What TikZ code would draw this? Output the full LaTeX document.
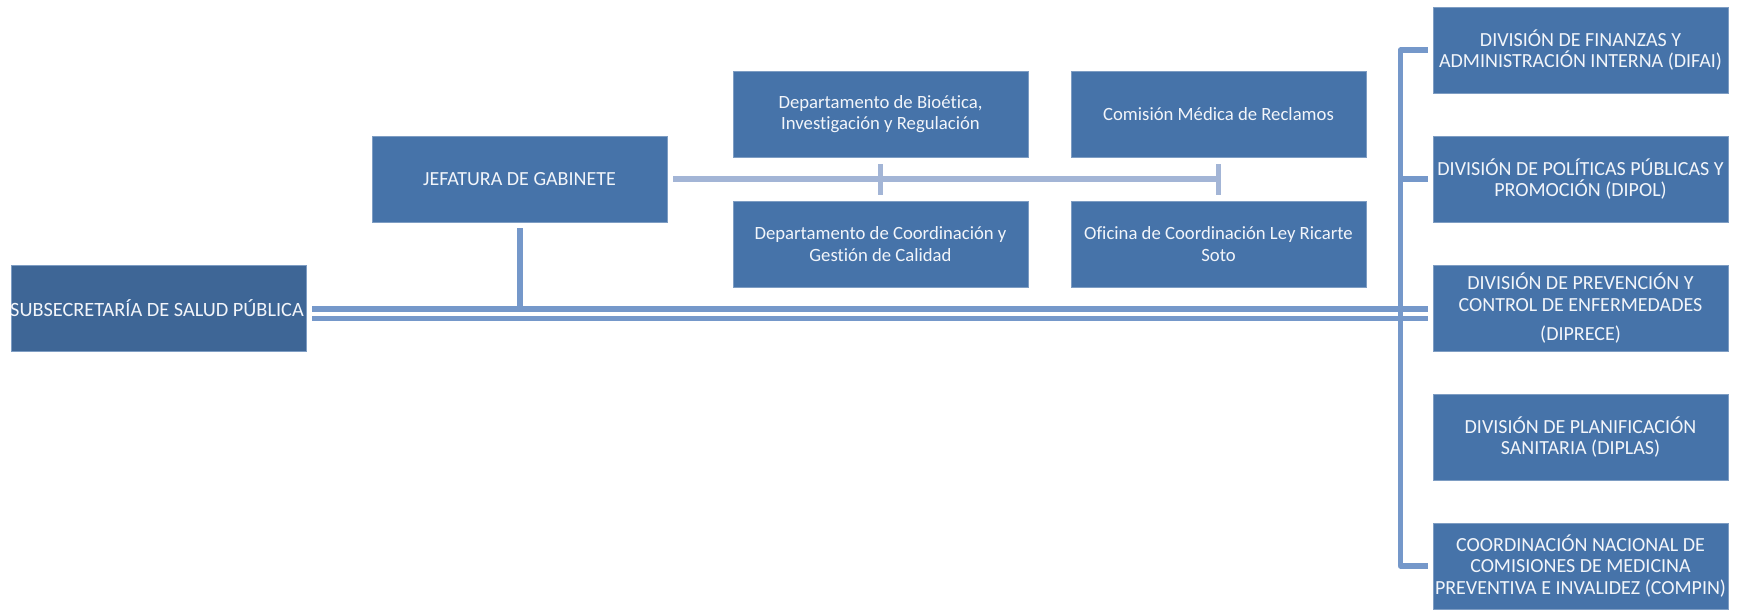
\documentclass[tikz,border=0pt]{standalone}
\usepackage{fontspec}
\setmainfont{Carlito}[Ligatures=NoCommon]
\definecolor{boxblue}{HTML}{4673A9}
\definecolor{boxdark}{HTML}{3E6696}
\definecolor{linkblue}{HTML}{7598CA}
\definecolor{linklight}{HTML}{A3B5D6}
\definecolor{txt}{HTML}{F2F5FA}
\begin{document}
\begin{tikzpicture}[x=1pt,y=-1pt,
  orgbox/.style={rectangle, fill=boxblue, draw=boxblue!70!white, line width=0.4pt,
    minimum width=295pt, minimum height=86pt, inner sep=0pt, align=center,
    text=txt, font=\fontsize{20}{21.7}\selectfont},
  mixed/.style={font=\fontsize{18.7}{21.7}\selectfont},
  link/.style={draw=linkblue, line width=5.5pt},
  lightlink/.style={draw=linklight, line width=6.5pt},
  tick/.style={draw=linklight, line width=5pt}]
\useasboundingbox (0,0) rectangle (1740,610);
% left and middle boxes
\node[orgbox, fill=boxdark, font=\fontsize{20.3}{21.7}\selectfont] (sub) at (158.5,308) {\makebox[0pt]{\hspace{-3pt}SUBSECRETARÍA DE SALUD PÚBLICA}};
\node[orgbox] (jef) at (519.5,179) {JEFATURA DE GABINETE};
\node[orgbox, mixed] (bio) at (880.5,114) {Departamento de Bioética,\\Investigación y Regulación};
\node[orgbox, mixed] (dcg) at (880.5,244) {Departamento de Coordinación y\\Gestión de Calidad};
\node[orgbox, mixed] (cmr) at (1218.5,114) {Comisión Médica de Reclamos};
\node[orgbox, mixed] (ofi) at (1218.5,244) {Oficina de Coordinación Ley Ricarte\\Soto};
% right boxes
\node[orgbox] (difai) at (1580.5,50) {DIVISIÓN DE FINANZAS Y\\ADMINISTRACIÓN INTERNA (DIFAI)};
\node[orgbox] (dipol) at (1580.5,179) {DIVISIÓN DE POLÍTICAS PÚBLICAS Y\\PROMOCIÓN (DIPOL)};
\node[orgbox] (diprece) at (1580.5,308) {DIVISIÓN DE PREVENCIÓN Y\\CONTROL DE ENFERMEDADES\\[7pt](DIPRECE)};
\node[orgbox] (diplas) at (1580.5,437) {DIVISIÓN DE PLANIFICACIÓN\\SANITARIA (DIPLAS)};
\node[orgbox] (compin) at (1580.5,566) {COORDINACIÓN NACIONAL DE\\COMISIONES DE MEDICINA\\PREVENTIVA E INVALIDEZ (COMPIN)};
% coordinates for connectors
\coordinate (busx) at (1400.5,0);
\coordinate (jefline) at ([xshift=6pt]jef.east);
\coordinate (tickB) at (cmr.south |- jef.east);
% light connector from Jefatura
\draw[lightlink] (jefline) -- ([xshift=2.5pt]tickB);
\draw[tick] ([yshift=-7pt]bio.south) -- ([yshift=6pt]dcg.north);
\draw[tick] ([yshift=-7pt]cmr.south) -- ([yshift=6pt]ofi.north);
% right bracket
\draw[link, line join=round] ([xshift=-5pt]difai.west) -- (busx |- difai.west) -- (busx |- compin.west) -- ([xshift=-5pt]compin.west);
\draw[link] (busx |- dipol.west) -- ([xshift=-5pt]dipol.west);
% double line
\draw[link] ([xshift=6pt,yshift=-1pt]sub.east) -- ([xshift=-5pt,yshift=-1pt]diprece.west);
\draw[link] ([xshift=6pt,yshift=-10.5pt]sub.east) -- ([xshift=-5pt,yshift=-10.5pt]diprece.west);
% vertical from Jefatura
\draw[link, line width=6pt] ([yshift=-6pt]jef.south) -- ([yshift=-1pt]jef.south |- sub.east);
\end{tikzpicture}
\end{document}
